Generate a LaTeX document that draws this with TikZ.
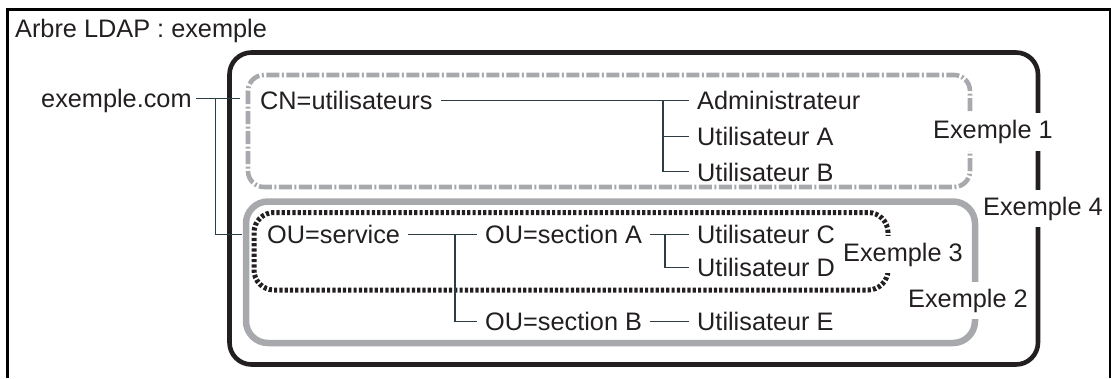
\documentclass[tikz,border=0pt]{standalone}
\usepackage{fontspec}
\setmainfont{Liberation Sans}
\definecolor{ink}{HTML}{231F20}
\definecolor{lgray}{HTML}{A7A9AC}
\definecolor{connc}{HTML}{2E3D45}
\tikzset{
  txt/.style={font=\fontsize{25.3}{30}\selectfont, text=ink, inner xsep=8pt, inner ysep=0pt,
    text height=18.3pt, text depth=0pt, anchor=base west},
  lbl/.style={txt, fill=white, inner xsep=3pt, inner ysep=7pt, text depth=5pt},
  conn/.style={draw=connc, line width=1.1pt},
  box4/.style={draw=ink, line width=4.6pt, rounded corners=22pt},
  box1/.style={draw=lgray, line width=4.6pt, rounded corners=16pt,
    dash pattern=on 13pt off 2.5pt on 2pt off 2.5pt},
  box2/.style={draw=lgray, line width=6.5pt, rounded corners=22pt},
  box3/.style={draw=ink, line width=5pt, rounded corners=20pt,
    dash pattern=on 3.2pt off 2.1pt},
}
\begin{document}
\begin{tikzpicture}[x=1pt,y=-1pt]
\useasboundingbox (0,0) rectangle (1111,378);
% frame
\draw[line width=3pt] (7.5,378) -- (7.5,9.5) -- (1110.5,9.5);
\draw[line width=1.5pt] (1110,9.5) -- (1110,378);
% boxes
\draw[box4] (229.5,52.5) rectangle (1038,364.5);
\draw[box1] (248,75) rectangle (970,187);
\draw[box2] (246,201.5) rectangle (975,343);
\draw[box3] (254,212.5) rectangle (888,290);
% title
\node[txt, inner xsep=0pt] (title) at (15,37.5) {Arbre LDAP : exemple};
% tree nodes
\node[txt, inner xsep=4pt] (ex) at (37,107.5) {exemple.com};
\node[txt] (cn)  at (252,109.5) {CN=utilisateurs};
\node[txt] (adm) at (689,109.5) {Administrateur};
\node[txt] (ua)  at (689,145.5) {Utilisateur A};
\node[txt] (ub)  at (689,181) {Utilisateur B};
\node[txt] (ous) at (259,243.5) {OU=service};
\node[txt] (osa) at (477,243.5) {OU=section A};
\node[txt] (uc)  at (689,243.5) {Utilisateur C};
\node[txt] (ud)  at (689,276.5) {Utilisateur D};
\node[txt] (osb) at (477,330.5) {OU=section B};
\node[txt] (ue)  at (689,330.5) {Utilisateur E};
% labels
\node[lbl] (l1) at (930,138.5) {Exemple 1};
\node[lbl] (l4) at (980,215) {Exemple 4};
\node[lbl] (l3) at (840,261) {Exemple 3};
\node[lbl] (l2) at (905,307) {Exemple 2};
% connectors
\coordinate (j) at ([xshift=20pt]ex.east);
\draw[conn, shorten >=12pt] (ex.east) -- (ex.east -| cn.west);
\draw[conn, shorten >=17pt] (j) |- (ous.west);
\draw[conn] (cn.east) -- (adm.west);
\coordinate (k1) at ([xshift=-26pt]adm.west);
\draw[conn] (k1) |- (ua.west);
\draw[conn] (k1) |- (ub.west);
\draw[conn] (ous.east) -- (osa.west);
\coordinate (k2) at ([xshift=-22pt]osa.west);
\draw[conn] (k2) |- (osb.west);
\draw[conn] (osa.east) -- (uc.west);
\coordinate (k3) at ([xshift=-24pt]uc.west);
\draw[conn] (k3) |- (ud.west);
\draw[conn] (osb.east) -- (ue.west);
\end{tikzpicture}
\end{document}
